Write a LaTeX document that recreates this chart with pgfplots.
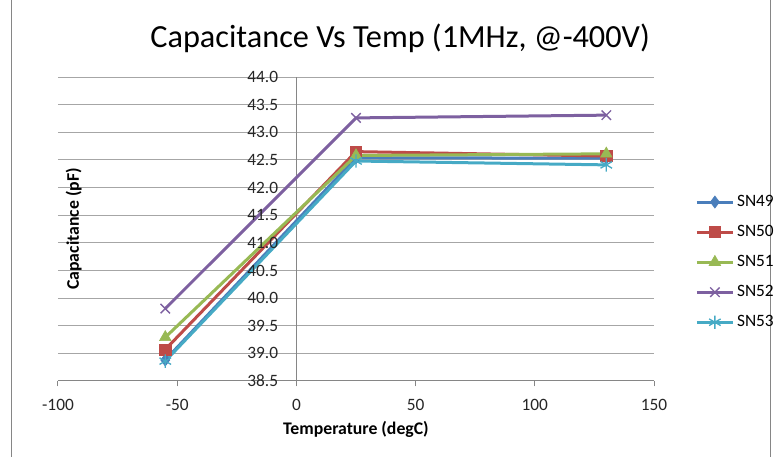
\documentclass[border=0pt]{standalone}
\usepackage{pgfplots}
\pgfplotsset{compat=1.18}
\usepackage{fontspec}
\setmainfont{Carlito}
\definecolor{c49}{HTML}{4A7EBB}
\definecolor{c50}{HTML}{BE4B48}
\definecolor{c51}{HTML}{98B954}
\definecolor{c52}{HTML}{7D60A0}
\definecolor{c53}{HTML}{46AAC5}
\definecolor{gridc}{HTML}{A6A6A6}
\definecolor{axc}{HTML}{868686}
\begin{document}
\begin{tikzpicture}
\useasboundingbox (0pt,0pt) rectangle (582pt,342.75pt);
\draw[axc, line width=0.75pt] (8.25pt,0pt) -- (8.25pt,342.75pt);
\draw[axc, line width=0.75pt] (577.5pt,0pt) -- (577.5pt,342.75pt);
\begin{axis}[
  name=ax,
  at={(43.5pt,57pt)}, anchor=south west,
  scale only axis, width=447pt, height=228pt, clip=false,
  xmin=-100, xmax=150, ymin=38.5, ymax=44,
  axis x line*=bottom, axis y line*=center,
  hide obscured x ticks=false, hide obscured y ticks=false,
  axis line style={-, draw=axc, line width=0.75pt},
  xtick={-100,-50,0,50,100,150},
  ytick={38.5,39,39.5,40,40.5,41,41.5,42,42.5,43,43.5,44},
  yticklabels={},
  ymajorgrids, grid style={gridc, line width=0.75pt},
  tick align=outside, major tick length=4pt,
  xtick style={draw=axc, line width=0.75pt},
  ytick style={draw=none},
  /pgf/number format/assume math mode=true,
  tick label style={font=\fontsize{13}{15}\selectfont, text=black!85},
  xticklabel style={yshift=-6pt},
  title={Capacitance Vs Temp (1MHz, @-400V)},
  title style={at={(axis description cs:0.574,1)}, anchor=base, yshift=16.5pt, font=\fontsize{24.2}{28}\selectfont},
  xlabel={\textbf{Temperature (degC)}},
  xlabel style={at={(axis description cs:0.5,0)}, anchor=base, yshift=-40.5pt, font=\fontsize{13.3}{15}\selectfont},
  legend style={at={(axis description cs:1.069,0.391)}, anchor=west, draw=none, fill=none, font=\fontsize{13}{15}\selectfont, row sep=8.6pt, inner sep=0pt},
  legend cell align=left,
  legend image code/.code={\draw[mark repeat=2, mark phase=2, #1] plot coordinates {(0pt,0pt) (13.5pt,0pt) (27pt,0pt)};},
  every axis plot/.append style={line width=2.25pt},
]
\addplot[c49, mark=diamond*, mark size=4.5pt, mark options={solid, line width=0.5pt}] coordinates {(-55,38.88) (25,42.54) (130,42.53)};
\addlegendentry{SN49}
\addplot[c50, mark=square*, mark size=4.2pt, mark options={solid, line width=0.5pt}] coordinates {(-55,39.07) (25,42.65) (130,42.57)};
\addlegendentry{SN50}
\addplot[c51, mark=triangle*, mark size=5pt, mark options={solid, line width=0.5pt}] coordinates {(-55,39.29) (25,42.58) (130,42.61)};
\addlegendentry{SN51}
\addplot[c52, mark=x, mark size=5pt, mark options={solid, line width=1pt}] coordinates {(-55,39.81) (25,43.26) (130,43.31)};
\addlegendentry{SN52}
\addplot[c53, mark=asterisk, mark size=5pt, mark options={solid, line width=1pt}] coordinates {(-55,38.86) (25,42.48) (130,42.41)};
\addlegendentry{SN53}
\pgfplotsinvokeforeach{38.5,39.0,39.5,40.0,40.5,41.0,41.5,42.0,42.5,43.0,43.5,44.0}{
  \node[anchor=east, inner sep=0pt, xshift=-13.5pt, font=\fontsize{13}{15}\selectfont, text=black!85] at (axis cs:0,#1) {#1};
}
\end{axis}
\node[rotate=90, anchor=base, inner sep=0pt, font=\fontsize{13.3}{15}\selectfont\bfseries] at (59.25pt,171pt) {Capacitance (pF)};
\end{tikzpicture}
\end{document}
